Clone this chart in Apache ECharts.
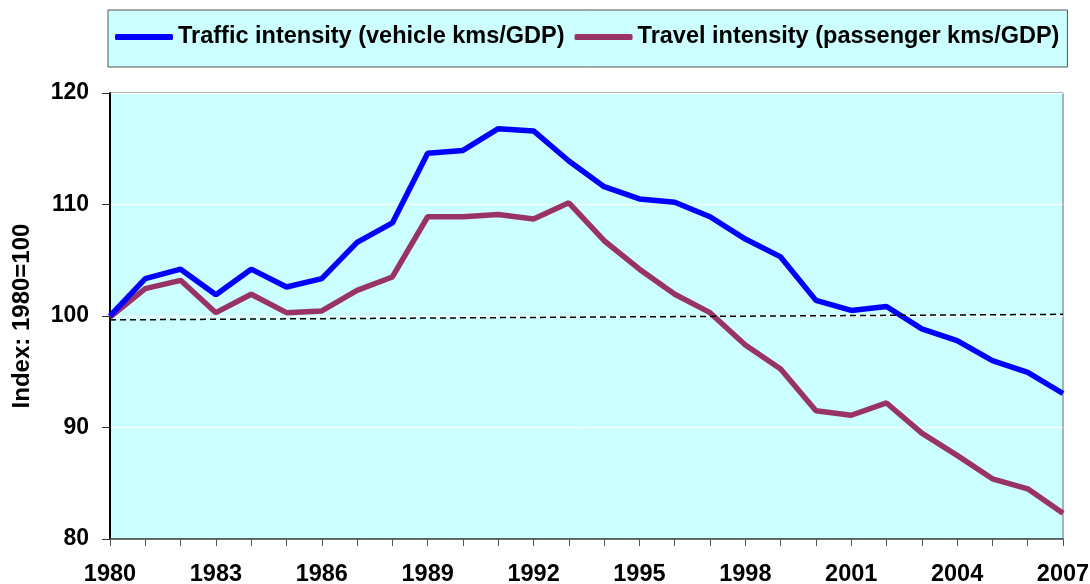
<!DOCTYPE html>
<html>
<head>
<meta charset="utf-8">
<script src="https://cdn.jsdelivr.net/npm/echarts@6/dist/echarts.min.js"></script>
<style>
  html, body { margin: 0; padding: 0; background: #fff; }
  #main { width: 1090px; height: 584px; }
</style>
</head>
<body>
<div id="main"></div>
<script>
var years = ['1980','1981','1982','1983','1984','1985','1986','1987','1988','1989',
  '1990','1991','1992','1993','1994','1995','1996','1997','1998','1999',
  '2000','2001','2002','2003','2004','2005','2006','2007'];
var traffic = [100, 103.35, 104.2, 101.9, 104.2, 102.6, 103.35, 106.6, 108.35, 114.6,
  114.85, 116.8, 116.6, 113.9, 111.6, 110.5, 110.2, 108.9, 106.9, 105.3,
  101.4, 100.5, 100.85, 98.85, 97.8, 96.0, 94.95, 93.05];
var travel = [99.9, 102.45, 103.2, 100.3, 101.95, 100.3, 100.45, 102.3, 103.5, 108.9,
  108.9, 109.1, 108.7, 110.15, 106.75, 104.2, 101.95, 100.3, 97.4, 95.25,
  91.5, 91.1, 92.2, 89.5, 87.5, 85.4, 84.5, 82.3];
// dashed reference line, start and end values
var refLine = [99.65, 100.15];
var seriesNames = ['Traffic intensity (vehicle kms/GDP)', 'Travel intensity (passenger kms/GDP)'];

var chart = echarts.init(document.getElementById('main'));
var lblFont = 'Liberation Sans, Arial, sans-serif';
var option = {
  animation: false,
  legend: {
    data: seriesNames,
    left: 108,
    top: 10,
    width: 1000,
    padding: [15, 8, 18, 7],
    itemGap: 10,
    itemWidth: 58,
    itemHeight: 6,
    icon: 'roundRect',
    backgroundColor: '#CCFFFF',
    borderColor: '#555',
    borderWidth: 1,
    textStyle: {
      fontFamily: lblFont,
      fontWeight: 'bold',
      fontSize: 23.5,
      color: '#000'
    }
  },
  grid: {
    left: 110, right: 27, top: 93, bottom: 45,
    outerBoundsMode: 'none',
    show: true,
    backgroundColor: '#CCFFFF',
    borderColor: '#666',
    borderWidth: 1
  },
  xAxis: {
    type: 'category',
    data: years,
    boundaryGap: false,
    axisLine: { lineStyle: { color: '#444', width: 1.5 } },
    axisTick: { interval: 0, length: 7, lineStyle: { color: '#555' } },
    axisLabel: {
      interval: 2,
      margin: 24,
      fontFamily: lblFont,
      fontWeight: 'bold',
      fontSize: 23.5,
      color: '#000'
    },
    splitLine: { show: false }
  },
  yAxis: {
    type: 'value',
    min: 80,
    max: 120,
    interval: 10,
    name: 'Index: 1980=100',
    nameLocation: 'middle',
    nameGap: 76,
    nameTextStyle: {
      fontFamily: lblFont,
      fontWeight: 'bold',
      fontSize: 24,
      color: '#000'
    },
    axisLine: { show: true, lineStyle: { color: '#000', width: 2 } },
    axisTick: { show: true, length: 8, lineStyle: { color: '#333' } },
    axisLabel: {
      margin: 21,
      fontFamily: lblFont,
      fontWeight: 'bold',
      fontSize: 23,
      color: '#000'
    },
    splitLine: { show: true, lineStyle: { color: '#fff', width: 1 } }
  },
  series: [{
    name: seriesNames[0],
    type: 'line',
    data: traffic,
    symbol: 'none',
    lineStyle: { color: '#0000FF', width: 5.5 },
    itemStyle: { color: '#0000FF' },
    z: 3
  }, {
    name: seriesNames[1],
    type: 'line',
    data: travel,
    symbol: 'none',
    lineStyle: { color: '#993366', width: 5.5 },
    itemStyle: { color: '#993366' },
    z: 2,
    markLine: {
      silent: true,
      symbol: 'none',
      label: { show: false },
      lineStyle: { color: '#000', width: 1.5, type: [6, 4] },
      data: [[
        { coord: [years[0], refLine[0]] },
        { coord: [years[years.length - 1], refLine[1]] }
      ]]
    }
  }]
};
chart.setOption(option);
</script>
</body>
</html>
